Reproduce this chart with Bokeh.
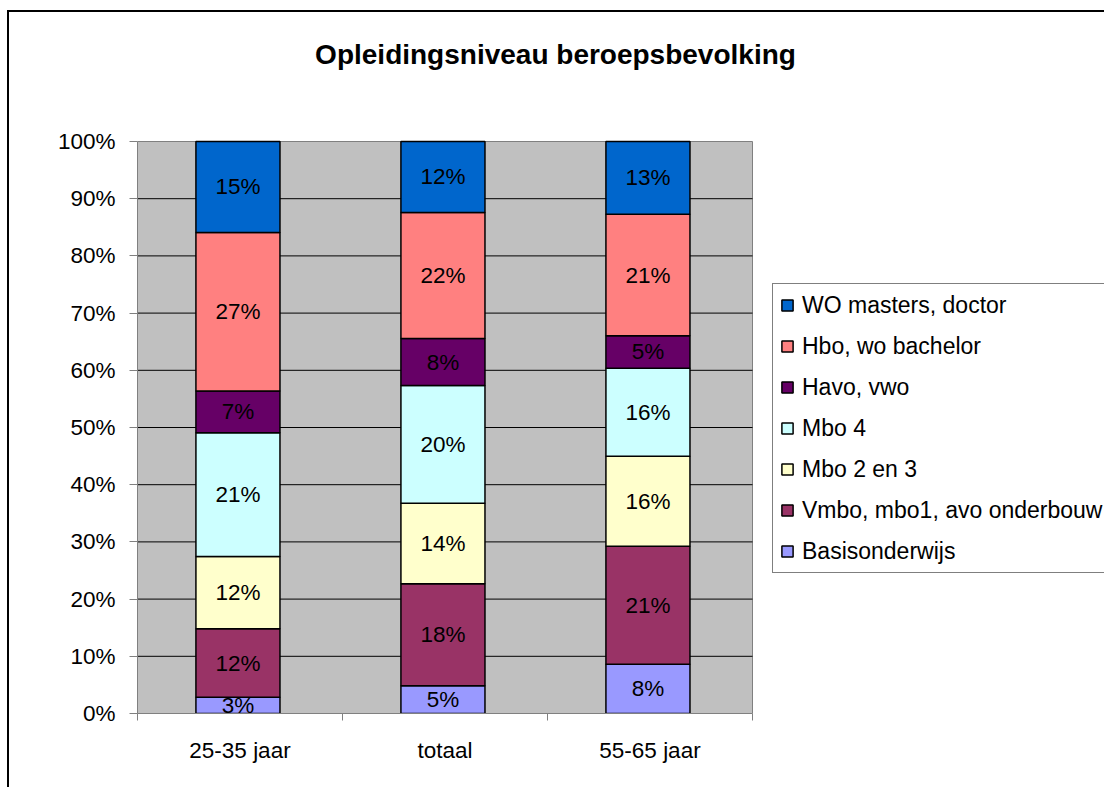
from bokeh.plotting import figure
from bokeh.models import (ColumnDataSource, FixedTicker, PrintfTickFormatter, Legend,
                          LegendItem, Range1d, Label)
from bokeh.core.properties import value
from bokeh.embed import file_html
from bokeh.resources import INLINE

# ---- data (percentages) ----
title_text = "Opleidingsniveau beroepsbevolking"
categories = ["25-35 jaar", "totaal", "55-65 jaar"]
series = ["Basisonderwijs", "Vmbo, mbo1, avo onderbouw", "Mbo 2 en 3", "Mbo 4",
          "Havo, vwo", "Hbo, wo bachelor", "WO masters, doctor"]
basis = [2.85, 4.84, 8.62]
vmbo = [11.95, 17.83, 20.63]
mbo23 = [12.65, 14.10, 15.73]
mbo4 = [21.65, 20.57, 15.39]
havo = [7.30, 8.22, 5.66]
hbo = [27.70, 22.03, 21.26]
wo = [15.90, 12.41, 12.71]
label_basis = ["3%", "5%", "8%"]
label_vmbo = ["12%", "18%", "21%"]
label_mbo23 = ["12%", "14%", "16%"]
label_mbo4 = ["21%", "20%", "16%"]
label_havo = ["7%", "8%", "5%"]
label_hbo = ["27%", "22%", "21%"]
label_wo = ["15%", "12%", "13%"]
colors = ["#9999FF", "#993366", "#FFFFCC", "#CCFFFF", "#660066", "#FF8080", "#0066CC"]
y_ticks = list(range(0, 101, 10))

values = [basis, vmbo, mbo23, mbo4, havo, hbo, wo]
labels = [label_basis, label_vmbo, label_mbo23, label_mbo4, label_havo, label_hbo, label_wo]

FONT = "Liberation Sans"
GRAY = "#808080"

# ---- layout (pixels) ----
W, H = 1104, 787
LEFT, BOTTOM = 137, 74          # space left of / below the plot area
PLOT_W, PLOT_H = 615, 572       # grey plot area
FRAME_W, FRAME_H = W - LEFT, H - BOTTOM
n = len(categories)
x_end = n * FRAME_W / PLOT_W
y_end = 100.0 * FRAME_H / PLOT_H
px_per_y = PLOT_H / 100.0
px_per_x = PLOT_W / n

xs = [i + 0.49 for i in range(n)]
keys = ["s%d" % i for i in range(len(series))]
data = {"x": xs}
for k, v in zip(keys, values):
    data[k] = v
src = ColumnDataSource(data)

p = figure(width=W, height=H, x_range=Range1d(0, x_end), y_range=Range1d(0, y_end),
           output_backend="svg", toolbar_location=None, tools="", title=None,
           min_border_left=LEFT, min_border_right=0, min_border_top=0, min_border_bottom=BOTTOM,
           background_fill_alpha=0, border_fill_color="white", border_fill_alpha=0,
           outline_line_color=None)

# chart-area border (left and top edges visible; right/bottom lie outside the window)
p.styles = {
    "background-color": "white",
    "box-shadow": "inset 0 10px 0 0 white, inset 7px 0 0 0 white, "
                  "inset 0 12px 0 0 black, inset 9px 0 0 0 black",
}

p.xgrid.visible = False
p.ygrid.visible = False

# grey plot area and gridlines
p.quad(left=[0], right=[n], bottom=[0], top=[100], fill_color="#C0C0C0",
       line_color=GRAY, line_width=1)
inner = y_ticks[1:-1]
p.segment(x0=[0] * len(inner), x1=[n] * len(inner), y0=inner, y1=inner,
          line_color="black", line_width=1)

renderers = p.vbar_stack(keys, x="x", width=0.41, color=colors, line_color="black",
                         line_width=1.5, source=src)

# data labels
lx, ly, lt = [], [], []
for j in range(n):
    bottom = 0.0
    for v, lab in zip(values, labels):
        lx.append(xs[j])
        ly.append(bottom + v[j] / 2.0)
        lt.append(lab[j])
        bottom += v[j]
p.text(x=lx, y=ly, text=lt, text_align="center", text_baseline="middle",
       text_font=value(FONT), text_font_size="22.5px", text_color="black")

# y axis
ya = p.yaxis[0]
ya.bounds = (0, 100)
ya.ticker = FixedTicker(ticks=y_ticks)
ya.formatter = PrintfTickFormatter(format="%d%%")
ya.major_tick_out = 8
ya.major_tick_in = 0
ya.minor_tick_out = 0
ya.minor_tick_in = 0
ya.axis_line_color = GRAY
ya.major_tick_line_color = GRAY
ya.major_label_standoff = 14
ya.major_label_text_font = FONT
ya.major_label_text_font_size = "22.5px"
ya.major_label_text_color = "black"

# x axis
xa = p.xaxis[0]
xa.bounds = (0, n)
xa.ticker = FixedTicker(ticks=[i + 0.5 for i in range(n)], minor_ticks=list(range(n + 1)))
xa.major_label_overrides = {i + 0.5: c for i, c in enumerate(categories)}
xa.major_tick_out = 0
xa.major_tick_in = 0
xa.minor_tick_out = 7
xa.minor_tick_in = 0
xa.minor_tick_line_color = GRAY
xa.axis_line_color = GRAY
xa.major_label_standoff = 17
xa.major_label_text_font = FONT
xa.major_label_text_font_size = "22.5px"
xa.major_label_text_color = "black"

# title (centred over the chart area)
title_cx = (555 - LEFT) / px_per_x
title_base = 100 + (H - BOTTOM - PLOT_H - 54) / px_per_y
p.add_layout(Label(x=title_cx, y=title_base, text=title_text, text_align="center",
                   text_baseline="alphabetic", text_font=FONT, text_font_size="28px",
                   text_font_style="bold", text_color="black"))

# legend (right of the grey plot area)
items = [LegendItem(label=series[i], renderers=[renderers[i]]) for i in reversed(range(len(series)))]
legend = Legend(items=items, location=(PLOT_W + 20, 140), margin=0, padding=7, spacing=13,
                glyph_width=14, glyph_height=14, label_standoff=8, label_height=28,
                label_text_font=FONT, label_text_font_size="23px", label_text_color="black",
                border_line_color="black", border_line_width=1, background_fill_color="white",
                background_fill_alpha=1)
p.add_layout(legend, "center")

open("out.html", "w").write(file_html(p, INLINE))
